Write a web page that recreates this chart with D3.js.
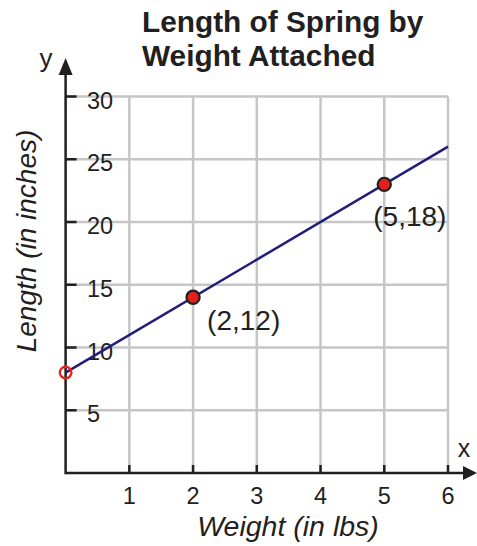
<!DOCTYPE html>
<html>
<head>
<meta charset="utf-8">
<script src="https://cdn.jsdelivr.net/npm/d3@7"></script>
<style>
html,body{margin:0;padding:0;background:#fff;}
svg text{font-family:"Liberation Sans",Arial,sans-serif;fill:#231f20;}
</style>
</head>
<body>
<svg id="chart" width="477" height="546"></svg>
<script>
const titleLines = ["Length of Spring by", "Weight Attached"];
const xTicks = [1, 2, 3, 4, 5, 6];
const yTicks = [5, 10, 15, 20, 25, 30];
const xDomain = [0, 6];
const yDomain = [0, 30];
const lineEnds = [{x: 0, y: 8}, {x: 6, y: 26}];
const openPoint = {x: 0, y: 8};
const points = [{x: 2, y: 14, label: "(2,12)"}, {x: 5, y: 23, label: "(5,18)"}];
const xLabel = "Weight (in lbs)";
const yLabel = "Length (in inches)";

const svg = d3.select("#chart");
const x = d3.scaleLinear().domain(xDomain).range([65.6, 448]);
const y = d3.scaleLinear().domain(yDomain).range([473, 96.5]);

const grid = "#c6c6c6";
svg.append("g").selectAll("line").data(xTicks).join("line")
  .attr("x1", d => x(d)).attr("x2", d => x(d))
  .attr("y1", y(0)).attr("y2", y(30))
  .attr("stroke", grid).attr("stroke-width", 2.5);
svg.append("g").selectAll("line").data(yTicks).join("line")
  .attr("x1", x(0)).attr("x2", x(6))
  .attr("y1", d => y(d)).attr("y2", d => y(d))
  .attr("stroke", grid).attr("stroke-width", 2.5);

const ax = "#231f20";
svg.append("line").attr("x1", x(0)).attr("x2", 466).attr("y1", y(0)).attr("y2", y(0))
  .attr("stroke", ax).attr("stroke-width", 2.5);
svg.append("line").attr("x1", x(0)).attr("x2", x(0)).attr("y1", y(0) + 1.2).attr("y2", 70)
  .attr("stroke", ax).attr("stroke-width", 2.5);
svg.append("path").attr("d", `M${x(0)},58 L${x(0) - 7},75 L${x(0) + 7},75 Z`).attr("fill", ax);
svg.append("path").attr("d", `M477,${y(0)} L463,${y(0) - 7} L463,${y(0) + 7} Z`).attr("fill", ax);

svg.append("g").selectAll("line").data(yTicks).join("line")
  .attr("x1", x(0)).attr("x2", x(0) + 11)
  .attr("y1", d => y(d)).attr("y2", d => y(d))
  .attr("stroke", ax).attr("stroke-width", 2.5);
svg.append("g").selectAll("line").data(xTicks).join("line")
  .attr("x1", d => x(d)).attr("x2", d => x(d))
  .attr("y1", y(0)).attr("y2", y(0) - 8)
  .attr("stroke", ax).attr("stroke-width", 2.5);

svg.append("g").selectAll("text").data(yTicks).join("text")
  .attr("x", 87).attr("y", d => y(d) + 12)
  .attr("font-size", 23.5).text(d => d);
svg.append("g").selectAll("text").data(xTicks).join("text")
  .attr("x", d => x(d)).attr("y", 504).attr("text-anchor", "middle")
  .attr("font-size", 23.5).text(d => d);

svg.append("text").attr("x", 46).attr("y", 67).attr("text-anchor", "middle").attr("font-size", 26).text("y");
svg.append("text").attr("x", 464).attr("y", 457).attr("text-anchor", "middle").attr("font-size", 25).text("x");

svg.append("g").selectAll("text").data(titleLines).join("text")
  .attr("x", 142).attr("y", (d, i) => 32 + i * 33.5)
  .attr("font-size", 29.8).attr("font-weight", "bold").text(d => d);

svg.append("text").attr("transform", `translate(36,241) rotate(-90)`)
  .attr("text-anchor", "middle").attr("font-size", 28).attr("font-style", "italic").text(yLabel);
svg.append("text").attr("x", 288).attr("y", 536)
  .attr("text-anchor", "middle").attr("font-size", 28.5).attr("font-style", "italic").text(xLabel);

svg.append("path").datum(lineEnds)
  .attr("d", d3.line().x(d => x(d.x)).y(d => y(d.y)))
  .attr("stroke", "#221c7a").attr("stroke-width", 2.5).attr("fill", "none");

svg.append("circle").attr("cx", x(openPoint.x)).attr("cy", y(openPoint.y)).attr("r", 5.8)
  .attr("fill", "none").attr("stroke", "#e8231e").attr("stroke-width", 2.4);

svg.append("g").selectAll("circle").data(points).join("circle")
  .attr("cx", d => x(d.x)).attr("cy", d => y(d.y)).attr("r", 6.6)
  .attr("fill", "#e3201b").attr("stroke", "#231f20").attr("stroke-width", 2.2);
svg.append("g").selectAll("text").data(points).join("text")
  .attr("x", d => x(d.x) + (d.x === 2 ? 14 : -11)).attr("y", d => y(d.y) + (d.x === 2 ? 33 : 42))
  .attr("font-size", 28).text(d => d.label);
</script>
</body>
</html>
